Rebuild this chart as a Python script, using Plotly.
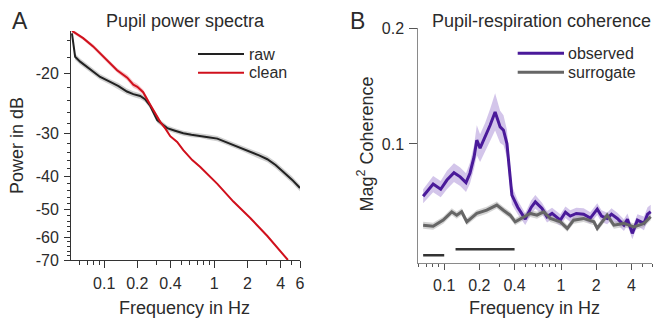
import numpy as np
import plotly.graph_objects as go

W, H = 656, 321

# ---------------- Panel A data (power spectra, dB) ----------------
raw_f = [0.051, 0.0545, 0.0605, 0.07, 0.0794, 0.092, 0.1135, 0.135, 0.161, 0.184,
         0.2125, 0.235, 0.262, 0.303, 0.335, 0.374, 0.44, 0.523, 0.62, 0.746,
         0.88, 1.065, 1.27, 1.49, 1.78, 2.12, 2.55, 3.03, 3.6, 4.24, 5.1, 6.0]
raw_db = [-15.3, -17.9, -18.5, -19.2, -19.8, -20.5, -21.2, -21.8, -22.6, -23.0,
          -23.3, -23.8, -24.9, -27.4, -28.1, -28.9, -29.4, -29.9, -30.2, -30.4,
          -30.7, -31.0, -31.7, -32.4, -33.1, -33.9, -34.7, -35.6, -37.0, -38.8, -40.9, -43.2]
raw_err = [0.3, 0.4, 0.4, 0.4, 0.4, 0.4, 0.4, 0.45, 0.45, 0.45,
           0.45, 0.45, 0.45, 0.45, 0.5, 0.5, 0.5, 0.5, 0.5, 0.5,
           0.55, 0.55, 0.6, 0.6, 0.6, 0.65, 0.7, 0.75, 0.8, 0.85, 0.9, 0.9]

clean_f = [0.0511, 0.055, 0.0645, 0.0794, 0.092, 0.1135, 0.131, 0.162, 0.184, 0.2,
           0.226, 0.262, 0.303, 0.323, 0.36, 0.398, 0.46, 0.523, 0.631, 0.746,
           1.065, 1.49, 2.12, 3.03, 4.66]
clean_db = [-15.05, -15.3, -15.8, -16.7, -17.5, -18.7, -19.6, -20.6, -21.6, -21.9,
            -22.7, -24.7, -26.8, -27.7, -29.0, -30.5, -31.7, -33.5, -35.8, -37.5,
            -42.0, -47.3, -52.8, -59.6, -70.0]
clean_err = [0.2, 0.2, 0.2, 0.25, 0.25, 0.3, 0.3, 0.4, 0.45, 0.45,
             0.4, 0.3, 0.25, 0.25, 0.2, 0.2, 0.2, 0.2, 0.2, 0.2,
             0.2, 0.2, 0.2, 0.2, 0.2]

a_xticks = [0.1, 0.2, 0.4, 1, 2, 4, 6]
a_xminor = [0.06, 0.07, 0.08, 0.09, 0.3, 0.5, 0.6, 0.7, 0.8, 0.9, 3, 5]
a_yticks = [-20, -30, -40, -50, -60, -70]
a_yminor = [-16, -18, -22, -24, -26, -28, -32, -34, -36, -38, -42, -44, -46, -48,
            -52, -54, -56, -58, -62, -64, -66, -68]

# ---------------- Panel B data (coherence) ----------------
obs_f = [0.066, 0.0804, 0.0933, 0.1055, 0.1212, 0.137, 0.1536, 0.166, 0.18, 0.19,
         0.2027, 0.2237, 0.247, 0.2726, 0.301, 0.3215, 0.344, 0.3795, 0.4255, 0.4935,
         0.556, 0.602, 0.687, 0.758, 0.837, 0.986, 1.09, 1.2, 1.35, 1.56,
         1.78, 2.04, 2.22, 2.48, 2.7, 3.03, 3.45, 3.7, 4.07, 4.5,
         5.12, 5.5, 5.85]
obs_c = [0.0549, 0.0653, 0.0609, 0.0688, 0.0752, 0.0716, 0.0666, 0.0747, 0.0888, 0.1032,
         0.0963, 0.106, 0.1161, 0.1276, 0.1147, 0.1118, 0.1003, 0.0558, 0.0454, 0.0351,
         0.0454, 0.05, 0.0443, 0.0371, 0.04, 0.0342, 0.041, 0.0377, 0.040, 0.0394,
         0.036, 0.0437, 0.0377, 0.0357, 0.0394, 0.0357, 0.0299, 0.035, 0.0228, 0.0342,
         0.0314, 0.0394, 0.0414]
obs_err = [0.006, 0.007, 0.007, 0.008, 0.008, 0.008, 0.008, 0.009, 0.01, 0.013,
           0.012, 0.012, 0.014, 0.016, 0.014, 0.013, 0.012, 0.008, 0.006, 0.005,
           0.006, 0.006, 0.005, 0.005, 0.005, 0.005, 0.005, 0.005, 0.005, 0.005,
           0.005, 0.005, 0.005, 0.005, 0.005, 0.005, 0.005, 0.005, 0.005, 0.005,
           0.006, 0.006, 0.006]

sur_f = [0.066, 0.0804, 0.098, 0.116, 0.128, 0.141, 0.156, 0.19, 0.231, 0.282,
         0.321, 0.367, 0.405, 0.477, 0.545, 0.622, 0.709, 0.809, 0.986, 1.13,
         1.28, 1.56, 1.91, 2.04, 2.48, 2.83, 3.45, 4.2, 5.12, 5.85]
sur_c = [0.0299, 0.029, 0.0342, 0.0414, 0.0385, 0.0414, 0.0328, 0.04, 0.0428, 0.0472,
         0.0428, 0.0385, 0.0328, 0.0371, 0.04, 0.0385, 0.0414, 0.0357, 0.0328, 0.0271,
         0.0342, 0.0357, 0.0328, 0.0271, 0.0385, 0.0299, 0.0314, 0.0284, 0.0314, 0.0371]
sur_err = [0.003] * len(sur_f)

bar1_f = [0.066, 0.1]
bar2_f = [0.125, 0.4]
bar_c = [0.004, 0.009]

b_xticks = [0.1, 0.2, 0.4, 1, 2, 4]
b_xminor = [0.06, 0.07, 0.08, 0.09, 0.3, 0.5, 0.6, 0.7, 0.8, 0.9, 3, 5, 6]
b_yticks = [0.1, 0.2]

# ---------------- colours ----------------
C_RAW = "#222222"
C_CLEAN = "#d0101c"
C_OBS = "#4a1a9a"
C_SUR = "#666666"
TXT = "#2b2b2b"
FONT = "Liberation Sans, Arial, Helvetica, sans-serif"


def pxx(x):
    return x / W


def pxy(y):
    return 1 - y / H


def band(f, lo, hi, color, xa, ya):
    return go.Scatter(x=list(f) + list(f)[::-1], y=list(hi) + list(lo)[::-1],
                      fill="toself", fillcolor=color, line=dict(width=0),
                      mode="lines", hoverinfo="skip", showlegend=False,
                      xaxis=xa, yaxis=ya)


fig = go.Figure()

# Panel A: plotted as magnitude of dB on reversed log axis
raw_m = -np.array(raw_db)
raw_e = np.array(raw_err)
clean_m = -np.array(clean_db)
clean_e = np.array(clean_err)

fig.add_trace(band(raw_f, raw_m + raw_e, raw_m - raw_e, "rgba(150,150,150,0.45)", "x", "y"))
fig.add_trace(band(clean_f, clean_m + clean_e, clean_m - clean_e, "rgba(225,90,100,0.35)", "x", "y"))
fig.add_trace(go.Scatter(x=raw_f, y=raw_m, mode="lines", line=dict(color=C_RAW, width=2),
                         showlegend=False, xaxis="x", yaxis="y"))
fig.add_trace(go.Scatter(x=clean_f, y=clean_m, mode="lines", line=dict(color=C_CLEAN, width=2),
                         showlegend=False, xaxis="x", yaxis="y"))

# Panel B
oc = np.array(obs_c)
oe = np.array(obs_err)
sc = np.array(sur_c)
se = np.array(sur_err)
fig.add_trace(band(obs_f, oc - oe, oc + oe, "rgba(120,80,190,0.33)", "x2", "y2"))
fig.add_trace(band(sur_f, sc - se, sc + se, "rgba(160,160,160,0.45)", "x2", "y2"))
fig.add_trace(go.Scatter(x=obs_f, y=obs_c, mode="lines", line=dict(color=C_OBS, width=3),
                         showlegend=False, xaxis="x2", yaxis="y2"))
fig.add_trace(go.Scatter(x=sur_f, y=sur_c, mode="lines", line=dict(color=C_SUR, width=3),
                         showlegend=False, xaxis="x2", yaxis="y2"))
fig.add_trace(go.Scatter(x=bar1_f, y=[bar_c[0]] * 2, mode="lines",
                         line=dict(color="#333333", width=2.5), showlegend=False,
                         xaxis="x2", yaxis="y2"))
fig.add_trace(go.Scatter(x=bar2_f, y=[bar_c[1]] * 2, mode="lines",
                         line=dict(color="#333333", width=2.5), showlegend=False,
                         xaxis="x2", yaxis="y2"))

tickfont = dict(family=FONT, size=16, color=TXT)

fig.update_layout(
    width=W, height=H,
    margin=dict(l=0, r=0, t=0, b=0, autoexpand=False),
    paper_bgcolor="white", plot_bgcolor="white",
    showlegend=False,
    xaxis=dict(
        type="log", domain=[pxx(71), pxx(300)], automargin=False,
        range=[np.log10(0.05), np.log10(6)],
        showline=True, linecolor="#333333", linewidth=1,
        showgrid=False, zeroline=False,
        ticks="outside", ticklen=7, tickwidth=1, tickcolor="#333333",
        tickmode="array", tickvals=a_xticks, ticktext=[str(v) for v in a_xticks],
        tickfont=tickfont, ticklabelstandoff=2,
        minor=dict(tickmode="array", tickvals=a_xminor, ticks="outside",
                   ticklen=4, tickwidth=1, tickcolor="#333333", showgrid=False),
        anchor="y",
    ),
    yaxis=dict(
        type="log", domain=[pxy(260), pxy(31)], automargin=False,
        range=[np.log10(70), np.log10(15.06)],
        showline=True, linecolor="#333333", linewidth=1,
        showgrid=False, zeroline=False,
        ticks="outside", ticklen=6, tickwidth=1, tickcolor="#333333",
        tickmode="array", tickvals=[-v for v in a_yticks],
        ticktext=[str(v) for v in a_yticks],
        tickfont=tickfont, ticklabelstandoff=2,
        minor=dict(tickmode="array", tickvals=[-v for v in a_yminor], ticks="outside",
                   ticklen=3, tickwidth=1, tickcolor="#333333", showgrid=False),
        anchor="x",
    ),
    xaxis2=dict(
        type="log", domain=[pxx(418.3), pxx(652)], automargin=False,
        range=[np.log10(0.06), np.log10(6)],
        showline=True, linecolor="#8a8a8a", linewidth=1,
        showgrid=False, zeroline=False,
        ticks="outside", ticklen=6, tickwidth=1, tickcolor="#555555",
        tickmode="array", tickvals=b_xticks, ticktext=[str(v) for v in b_xticks],
        tickfont=tickfont, ticklabelstandoff=2,
        minor=dict(tickmode="array", tickvals=b_xminor, ticks="outside",
                   ticklen=3, tickwidth=1, tickcolor="#555555", showgrid=False),
        anchor="y2",
    ),
    yaxis2=dict(
        domain=[pxy(262.7), pxy(28)], automargin=False,
        range=[-0.0025, 0.2],
        showline=True, linecolor="#8a8a8a", linewidth=1,
        showgrid=False, zeroline=False,
        ticks="outside", ticklen=8, tickwidth=1, tickcolor="#555555",
        tickmode="array", tickvals=b_yticks, ticktext=[str(v) for v in b_yticks],
        tickfont=tickfont, ticklabelstandoff=2,
        anchor="x2",
    ),
)

ann = []


def text(x, y, s, size, xanchor="center", angle=0):
    ann.append(dict(x=pxx(x), y=pxy(y), xref="paper", yref="paper", text=s,
                    showarrow=False, xanchor=xanchor, yanchor="middle",
                    textangle=angle, font=dict(family=FONT, size=size, color=TXT)))


text(20, 21, "A", 23)
text(357.5, 21, "B", 23)
text(185.5, 21.5, "Pupil power spectra", 18)
text(541, 21.5, "Pupil-respiration coherence", 18)
text(185, 308, "Frequency in Hz", 18)
text(534.5, 308, "Frequency in Hz", 18)
text(17, 146, "Power in dB", 18, angle=-90)
text(366, 144.5, "Mag<sup>2</sup> Coherence", 18, angle=-90)
# legends
text(247, 54, "raw", 16, xanchor="left")
text(247, 72.7, "clean", 16, xanchor="left")
text(566, 53.3, "observed", 16, xanchor="left")
text(566, 72.3, "surrogate", 16, xanchor="left")
fig.update_layout(annotations=ann)

shapes = []
for (x0, x1, y, col, w) in [(198, 244, 54, C_RAW, 2), (198, 244, 72.7, C_CLEAN, 2),
                            (517.7, 564, 53.3, C_OBS, 3), (517.7, 564, 72.3, C_SUR, 3)]:
    shapes.append(dict(type="line", xref="paper", yref="paper",
                       x0=pxx(x0), x1=pxx(x1), y0=pxy(y), y1=pxy(y),
                       line=dict(color=col, width=w)))
fig.update_layout(shapes=shapes)

fig.write_html("out.html",
               config={"displayModeBar": False},
               post_script="document.body.style.margin='0px';"
                           "document.body.style.overflow='hidden';")
